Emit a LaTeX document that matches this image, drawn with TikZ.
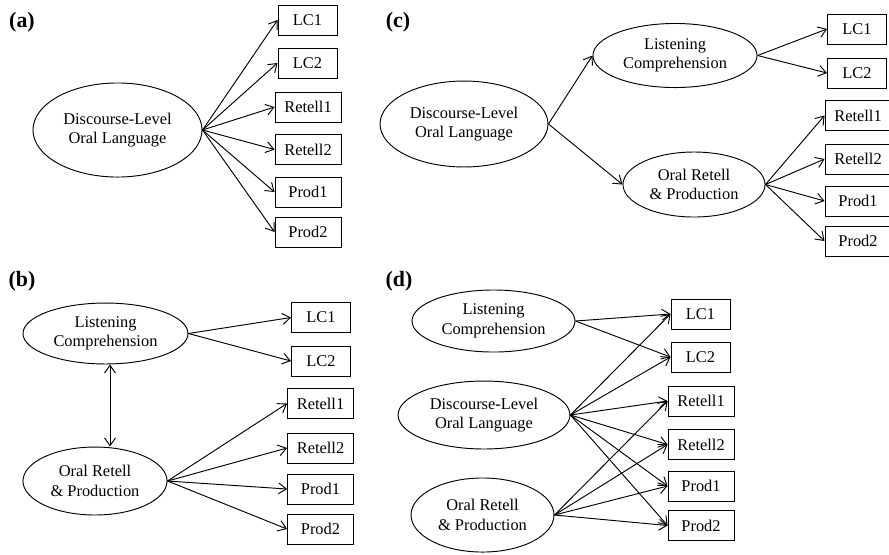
\documentclass[tikz,border=0pt]{standalone}
\usepackage{fontspec}
\setmainfont{Liberation Serif}
\usetikzlibrary{arrows.meta,shapes.geometric}

\begin{document}
\begin{tikzpicture}[x=0.64pt, y=-0.64pt,
		every node/.style={font=\fontsize{10.5}{12.5}\selectfont},
		latent/.style={draw, ellipse, inner sep=0pt, align=center, line width=0.6pt},
		obsbox/.style={draw, rectangle, inner sep=0pt, minimum height=19.2pt, line width=0.6pt},
		lcbox/.style={obsbox, minimum width=37.8pt},
		rpbox/.style={obsbox, minimum width=42.2pt},
		arr/.style={-{Straight Barb[length=5pt,width=7pt]}, line width=0.6pt},
		dblarr/.style={{Straight Barb[length=5pt,width=7pt]}-{Straight Barb[length=5pt,width=7pt]}, line width=0.6pt},
		panel/.style={font=\fontsize{14}{16}\selectfont\bfseries}]
			%%%%% START %%%%%
			
			\useasboundingbox (0,0) rectangle (889,554);
			
			%%%%% (a) %%%%%
			\node[panel] (a-lbl) at (22,22) {(a)};
			\node[latent, minimum width=108.2pt, minimum height=60.2pt] (a-dol) at (117.5,130) {Discourse-Level\\Oral Language};
			\node[lcbox] (a-lc1) at (307.5,20) {LC1};
			\node[lcbox] (a-lc2) at (307.5,63) {LC2};
			\node[rpbox] (a-ret1) at (308,107) {Retell1};
			\node[rpbox] (a-ret2) at (308,149.5) {Retell2};
			\node[rpbox] (a-prod1) at (308,192) {Prod1};
			\node[rpbox] (a-prod2) at (308,232) {Prod2};
			
			\draw[arr] (a-dol.east) -- (a-lc1.west);
			\draw[arr] (a-dol.east) -- (a-lc2.west);
			\draw[arr] (a-dol.east) -- (a-ret1.west);
			\draw[arr] (a-dol.east) -- (a-ret2.west);
			\draw[arr] (a-dol.east) -- (a-prod1.west);
			\draw[arr] (a-dol.east) -- (a-prod2.west);
			
			%%%%% (c) %%%%%
			\node[panel] (c-lbl) at (398,22) {(c)};
			\node[latent, minimum width=107.5pt, minimum height=55pt] (c-dol) at (464,124) {Discourse-Level\\Oral Language};
			\node[latent, minimum width=105pt, minimum height=41pt] (c-lc) at (675,55.5) {Listening\\Comprehension};
			\node[latent, minimum width=90.9pt, minimum height=41.6pt] (c-orp) at (694,184.5) {Oral Retell\\\& Production};
			\node[lcbox] (c-lc1) at (857,29) {LC1};
			\node[lcbox] (c-lc2) at (857,73) {LC2};
			\node[rpbox] (c-ret1) at (858,115.5) {Retell1};
			\node[rpbox] (c-ret2) at (858,159) {Retell2};
			\node[rpbox] (c-prod1) at (858,201) {Prod1};
			\node[rpbox] (c-prod2) at (858,241) {Prod2};
			
			\draw[arr] (c-dol.east) -- (c-lc.west);
			\draw[arr] (c-dol.east) -- (c-orp.west);
			\draw[arr] (c-lc.east) -- (c-lc1.west);
			\draw[arr] (c-lc.east) -- (c-lc2.west);
			\draw[arr] (c-orp.east) -- (c-ret1.west);
			\draw[arr] (c-orp.east) -- (c-ret2.west);
			\draw[arr] (c-orp.east) -- (c-prod1.west);
			\draw[arr] (c-orp.east) -- (c-prod2.west);
			
			%%%%% (b) %%%%%
			\node[panel] (b-lbl) at (22,281) {(b)};
			\node[latent, minimum width=105.6pt, minimum height=39pt] (b-lc) at (105.5,333.5) {Listening\\Comprehension};
			\node[latent, minimum width=92.2pt, minimum height=43.5pt] (b-orp) at (95,481) {Oral Retell\\\& Production};
			\node[lcbox] (b-lc1) at (321,317.5) {LC1};
			\node[lcbox] (b-lc2) at (321,361) {LC2};
			\node[rpbox] (b-ret1) at (320.5,403.5) {Retell1};
			\node[rpbox] (b-ret2) at (320.5,448) {Retell2};
			\node[rpbox] (b-prod1) at (320.5,489) {Prod1};
			\node[rpbox] (b-prod2) at (320.5,529) {Prod2};
			\coordinate (b-mid) at (110,405);
			
			\draw[dblarr] (b-lc.south -| b-mid) -- (b-orp.north -| b-mid);
			\draw[arr] (b-lc.east) -- (b-lc1.west);
			\draw[arr] (b-lc.east) -- (b-lc2.west);
			\draw[arr] (b-orp.east) -- (b-ret1.west);
			\draw[arr] (b-orp.east) -- (b-ret2.west);
			\draw[arr] (b-orp.east) -- (b-prod1.west);
			\draw[arr] (b-orp.east) -- (b-prod2.west);
			
			%%%%% (d) %%%%%
			\node[panel] (d-lbl) at (399,281) {(d)};
			\node[latent, minimum width=104.3pt, minimum height=39.7pt] (d-lc) at (493.5,321) {Listening\\Comprehension};
			\node[latent, minimum width=110pt, minimum height=43.5pt] (d-dol) at (484,415) {Discourse-Level\\Oral Language};
			\node[latent, minimum width=91.5pt, minimum height=47.4pt] (d-orp) at (482.5,515) {Oral Retell\\\& Production};
			\node[lcbox] (d-lc1) at (700.5,314) {LC1};
			\node[lcbox] (d-lc2) at (700.5,357) {LC2};
			\node[rpbox] (d-ret1) at (701,401) {Retell1};
			\node[rpbox] (d-ret2) at (701,444.5) {Retell2};
			\node[rpbox] (d-prod1) at (701,486) {Prod1};
			\node[rpbox] (d-prod2) at (701,525.5) {Prod2};
			
			\draw[arr] (d-lc.east) -- (d-lc1.west);
			\draw[arr] (d-lc.east) -- (d-lc2.west);
			\draw[arr] (d-dol.east) -- (d-lc1.west);
			\draw[arr] (d-dol.east) -- (d-lc2.west);
			\draw[arr] (d-dol.east) -- (d-ret1.west);
			\draw[arr] (d-dol.east) -- (d-ret2.west);
			\draw[arr] (d-dol.east) -- (d-prod1.west);
			\draw[arr] (d-dol.east) -- (d-prod2.west);
			\draw[arr] (d-orp.east) -- (d-ret1.west);
			\draw[arr] (d-orp.east) -- (d-ret2.west);
			\draw[arr] (d-orp.east) -- (d-prod1.west);
			\draw[arr] (d-orp.east) -- (d-prod2.west);
			
			%%%%% END %%%%%
		\end{tikzpicture}
\end{document}
